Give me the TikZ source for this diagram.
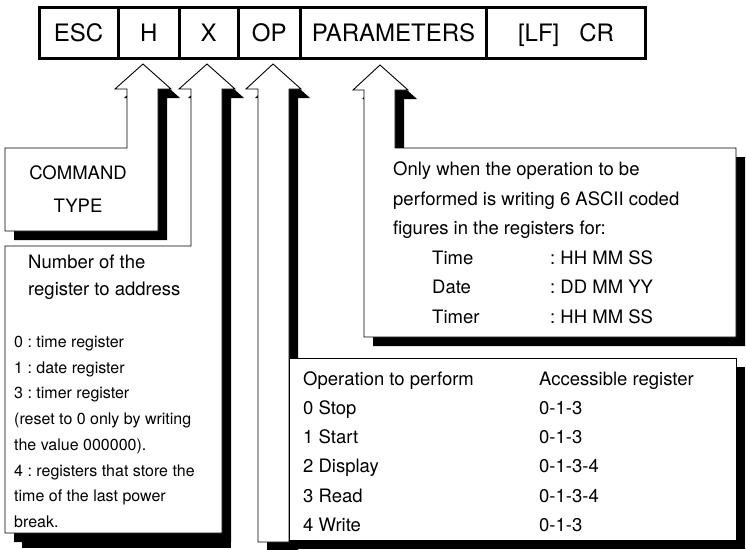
\documentclass[tikz,border=0pt]{standalone}
\usepackage{fontspec}
\setmainfont{TeX Gyre Heros}
\frenchspacing

\begin{document}
\begin{tikzpicture}[x=1pt, y=-1pt,
    field/.style={draw, line width=3pt, inner sep=0pt, minimum height=51pt,
      text height=17.3pt, text depth=0pt, font=\fontsize{24}{28}\selectfont},
    callout/.style={draw, fill=white, line width=0.9pt,
      preaction={fill=black, transform canvas={xshift=9pt, yshift=-9pt}}},
    txt/.style={anchor=base west, inner sep=0pt, font=\fontsize{18.5}{22}\selectfont},
    smalltxt/.style={txt, font=\fontsize{16}{19}\selectfont}]
  \useasboundingbox (0,0) rectangle (746,549);

  % H -> command type
  \path[callout] (143,64) -- (171,89) -- (158,89) -- (158,231) -- (5,231)
    -- (5,148) -- (127,148) -- (127,89) -- (115,89) -- cycle;
  \node[txt, anchor=base] (cmd)  at (78,179.3) {COMMAND};
  \node[txt, anchor=base] (type) at (78,212.7) {TYPE};

  % X -> register number
  \fill[black] (22,533) rectangle (231,548);
  \path[callout] (207,64) -- (235,89) -- (222,89) -- (222,533) -- (5,533)
    -- (5,246) -- (191,246) -- (191,89) -- (179,89) -- cycle;
  \node[txt] (num1) at (28,268.3) {Number of the};
  \node[txt] (num2) at (28,295.5) {register to address};
  \foreach \t [count=\i from 0] in {{0 : time register}, {1 : date register},
      {3 : timer register}, {(reset to 0 only by writing}, {the value 000000).},
      {4 : registers that store the}, {time of the last power}, {break.}}
    \node[smalltxt] (reg\i) at (14,347.5+25.7*\i) {\t};

  % OP -> operation
  \path[callout] (273,64) -- (301,89) -- (289,89) -- (289,542) -- (258,542)
    -- (258,89) -- (246,89) -- cycle;
  \path[callout] (289,358) rectangle (736,540);
  \foreach \a/\b [count=\i from 0] in {Operation to perform/Accessible register,
      0 Stop/0-1-3, 1 Start/0-1-3, 2 Display/0-1-3-4, 3 Read/0-1-3-4, 4 Write/0-1-3}
  {
    \node[txt] (op\i)  at (303,385+29.3*\i) {\a};
    \node[txt] (acc\i) at (539,385+29.3*\i) {\b};
  }

  % PARAMETERS -> figures
  \path[callout] (380,65) -- (408,90) -- (395,90) -- (395,148) -- (736,148)
    -- (736,337) -- (364,337) -- (364,90) -- (353,90) -- cycle;
  \node[txt] (only1) at (393,175.5) {Only when the operation to be};
  \node[txt] (only2) at (393,205)   {performed is writing 6 ASCII coded};
  \node[txt] (only3) at (393,234.5) {figures in the registers for:};
  \foreach \a/\b [count=\i from 0] in {Time/: HH MM SS, Date/: DD MM YY, Timer/: HH MM SS}
  {
    \node[txt] (reg\a) at (432,264+29.5*\i) {\a};
    \node[txt] (fmt\a) at (550,264+29.5*\i) {\b};
  }

  % message fields
  \node[field, minimum width=79pt]   (esc)   at (78.5,33)   {ESC};
  \node[field, minimum width=61.5pt] (h)     at (148.75,33) {H};
  \node[field, minimum width=58.5pt] (x)     at (208.75,33) {X};
  \node[field, minimum width=62.5pt] (op)    at (269.25,33) {OP};
  \node[field, minimum width=186pt]  (param) at (393.5,33)  {PARAMETERS};
  \node[field, minimum width=159pt]  (end)   at (566,33)    {[LF]\hspace{20pt}CR};
\end{tikzpicture}
\end{document}
